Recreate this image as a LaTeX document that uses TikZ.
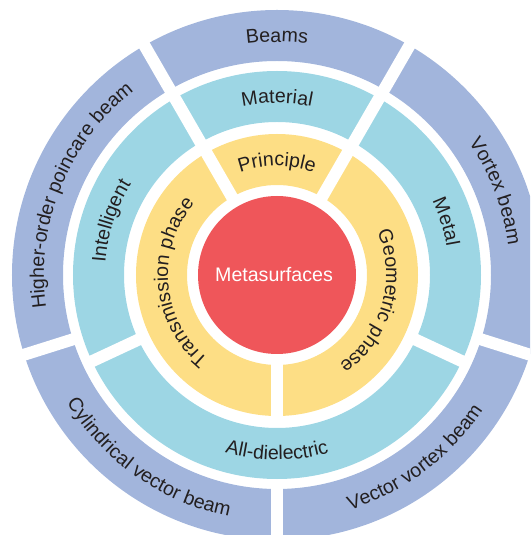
\documentclass[tikz,border=0pt]{standalone}
\usepackage{fontspec}
\setmainfont{Liberation Sans}
\usetikzlibrary{decorations.text}

\definecolor{ringblue}{RGB}{162,181,220}
\definecolor{ringcyan}{RGB}{157,214,228}
\definecolor{ringyellow}{RGB}{253,222,133}
\definecolor{corered}{RGB}{239,86,90}
\definecolor{labeltext}{RGB}{35,31,32}

\newcommand\ringfont{\fontsize{9.8}{11.5}\selectfont}

% clockwise label: baseline radius, centre angle, half span, text
\newcommand\cwlabel[4]{%
  \path[decorate,decoration={text along path,text align=center,
      text color=labeltext,text={|\ringfont|#4}}]
    (#2+#3:#1) arc[start angle=#2+#3,end angle=#2-#3,radius=#1];}
% counter-clockwise label (letters face the centre)
\newcommand\ccwlabel[4]{%
  \path[decorate,decoration={text along path,text align=center,
      text color=labeltext,text={|\ringfont|#4}}]
    (#2-#3:#1) arc[start angle=#2-#3,end angle=#2+#3,radius=#1];}

\begin{document}
\begin{tikzpicture}[x=0.5pt,y=0.5pt,
  band/.style={even odd rule},
  gap/.style={draw=white,line width=6pt}]
\useasboundingbox (-277,-260) rectangle (253,275);
\clip (-277,-260) rectangle (253,275);

% rings
\fill[band,ringblue]   (0,0) circle[radius=265] (0,0) circle[radius=214];
\fill[band,ringcyan]   (0,0) circle[radius=204] (0,0) circle[radius=153];
\fill[band,ringyellow] (0,0) circle[radius=141] (0,0) circle[radius=90];

% white separators between the segments
\foreach \a in {60,120,270}       \draw[gap] (\a:84) -- (\a:147);
\foreach \a in {60,120,-25,205}   \draw[gap] (\a:147) -- (\a:209);
\foreach \a in {60,120,-17.5,197.5,270} \draw[gap] (\a:209) -- (\a:280);

% core
\fill[corered] (0,0) circle[radius=79];
\node[text=white,font=\fontsize{9.8}{11.5}\selectfont] (core) at (-3,0) {Metasurfaces};

% outer ring labels
\cwlabel{233}{90}{30}{Beams}
\cwlabel{233}{21}{40}{Vortex beam}
\cwlabel{233}{158}{45}{Higher-order poincare beam}
\ccwlabel{246}{235}{45}{Cylindrical vector beam}
\ccwlabel{246}{307}{40}{Vector vortex beam}

% middle ring labels
\cwlabel{172}{90}{35}{Material}
\cwlabel{172}{17.5}{30}{Metal}
\cwlabel{172}{162}{35}{Intelligent}
\ccwlabel{185}{270}{40}{All-dielectric}

% inner ring labels
\cwlabel{109}{90}{40}{Principle}
\cwlabel{109}{-16}{55}{Geometric phase}
\cwlabel{109}{185}{55}{Transmission phase}
\end{tikzpicture}
\end{document}
